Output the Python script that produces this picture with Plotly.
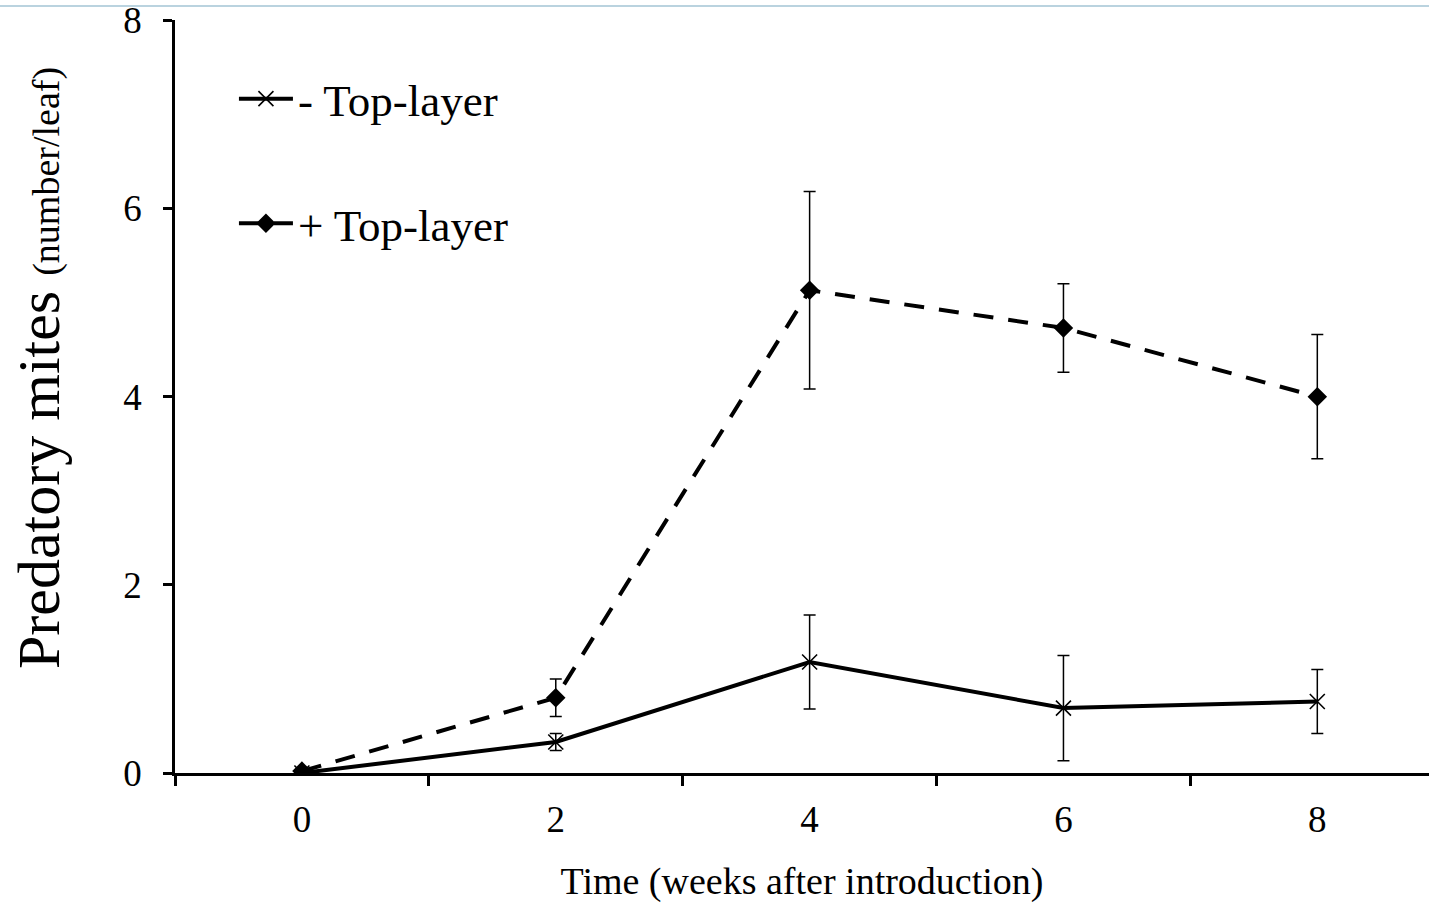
import plotly.graph_objects as go

weeks = [0, 2, 4, 6, 8]
minus_top = [0.0, 0.33, 1.18, 0.69, 0.76]
minus_err = [0.0, 0.09, 0.50, 0.56, 0.34]
plus_top = [0.02, 0.80, 5.13, 4.73, 4.00]
plus_err = [0.0, 0.20, 1.05, 0.47, 0.66]
x_tick_labels = ["0", "2", "4", "6", "8"]
y_tick_vals = [0, 2, 4, 6, 8]

FONT = "Liberation Serif, Times New Roman, serif"

fig = go.Figure()
fig.add_trace(go.Scatter(
    x=weeks, y=minus_top, name="- Top-layer", mode="lines+markers",
    line=dict(color="black", width=4),
    marker=dict(symbol="x-thin", size=15, line=dict(color="black", width=1.6), color="black"),
    error_y=dict(type="data", array=minus_err, color="black", thickness=1.5, width=6),
    legendgroup="a",
))
fig.add_trace(go.Scatter(
    x=weeks, y=plus_top, name="+ Top-layer", mode="lines+markers",
    line=dict(color="black", width=4, dash="20px,15px"),
    marker=dict(symbol="diamond", size=15, color="black"),
    error_y=dict(type="data", array=plus_err, color="black", thickness=1.5, width=6),
    legendgroup="b",
))

fig.update_layout(
    width=1429, height=903,
    margin=dict(l=175, r=0, t=18, b=130),
    paper_bgcolor="white", plot_bgcolor="white",
    font=dict(family=FONT, color="black"),
    showlegend=True,
    legend=dict(x=0.047, y=0.943, xanchor="left", yanchor="top",
                font=dict(size=45, family=FONT), tracegroupgap=63,
                bgcolor="rgba(0,0,0,0)", itemwidth=54),
    xaxis=dict(
        range=[-1, 8.88], showgrid=False, zeroline=False,
        tickmode="array", tickvals=weeks, ticktext=x_tick_labels, ticks="",
        tickfont=dict(size=37, family=FONT), ticklabelstandoff=12,
        showline=True, linecolor="black", linewidth=2.5,
        minor=dict(tickmode="array", tickvals=[-1, 1, 3, 5, 7], ticks="outside",
                   ticklen=10, tickwidth=2.5, tickcolor="black"),
        title=dict(text="Time (weeks after introduction)", font=dict(size=38, family=FONT), standoff=35),
    ),
    yaxis=dict(
        range=[0, 8.003], showgrid=False, zeroline=False,
        tickmode="array", tickvals=y_tick_vals, ticks="outside", ticklen=9, tickwidth=2.5,
        tickcolor="black", tickfont=dict(size=37, family=FONT), ticklabelstandoff=14,
        ticklabeloverflow="allow",
        showline=True, linecolor="black", linewidth=2.5,
    ),
)

fig.add_annotation(
    text="Predatory mites <span style='font-size:38px'>(number/leaf)</span>",
    font=dict(size=60, family=FONT, color="black"),
    textangle=-90, showarrow=False,
    xref="paper", yref="paper", x=-0.1085, y=0.5377, xanchor="center", yanchor="middle",
)

fig.add_shape(type="line", xref="paper", yref="paper", x0=-0.2, x1=1.0, y0=1.0185, y1=1.0185,
              line=dict(color="#a3c4d4", width=1.5))

fig.write_html("out.html")
